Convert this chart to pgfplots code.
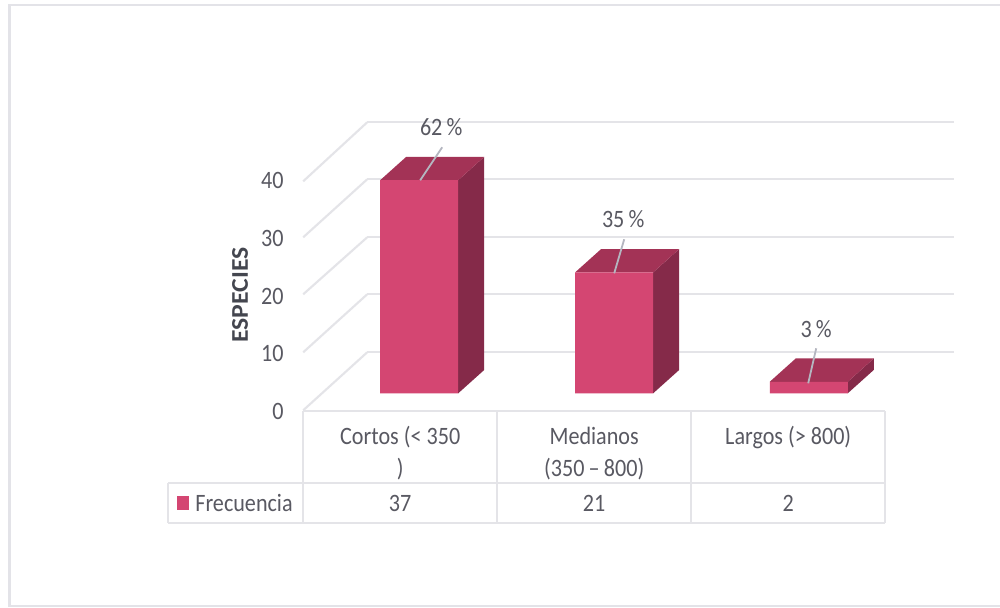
\documentclass[border=0pt]{standalone}
\usepackage{fontspec}
\setmainfont{Carlito}[FakeStretch=0.885]
\newfontfamily\headfont{Carlito}[FakeStretch=1.07]
\usepackage{pgfplots}
\pgfplotsset{compat=1.18}
\definecolor{gridc}{HTML}{E4E4E8}
\definecolor{framec}{HTML}{E3E3E8}
\definecolor{txt}{HTML}{595962}
\definecolor{headc}{HTML}{44464F}
\definecolor{frontc}{HTML}{D44672}
\definecolor{topc}{HTML}{A33356}
\definecolor{sidec}{HTML}{852A49}
\definecolor{leadc}{HTML}{B4B6C0}
\pgfplotsset{
  canvas/.style={at={(0.2pt,-0.3pt)},anchor=south west,scale only axis,width=1000pt,height=607pt,
    xmin=0,xmax=1000,ymin=0,ymax=607,y dir=reverse,hide axis,clip=false},
}
\tikzset{rule/.style={gridc,line width=2.1pt}}
\newcommand{\tabfont}{\fontsize{25}{30}\selectfont}
\begin{document}
\begin{tikzpicture}
\useasboundingbox (0pt,0pt) rectangle (1000pt,607pt);
\clip (0pt,0pt) rectangle (1000pt,607pt);
% page, outer frame, walls and table rules, in page units
\begin{axis}[canvas]
  \fill[white] (axis cs:-2,-2) rectangle (axis cs:1002,609);
  \draw[framec,line width=2.4pt] (axis cs:1002,5) -- (axis cs:9.3,5) -- (axis cs:9.3,605.5) -- (axis cs:1002,605.5);
  % back wall
  \draw[rule] (axis cs:367,122) -- (axis cs:954,122);
  \draw[rule] (axis cs:367,179) -- (axis cs:954,179);
  \draw[rule] (axis cs:367,237) -- (axis cs:954,237);
  \draw[rule] (axis cs:367,294) -- (axis cs:954,294);
  \draw[rule] (axis cs:367,352) -- (axis cs:954,352);
  % side wall
  \draw[rule] (axis cs:303,410) -- (axis cs:367,352);
  \draw[rule] (axis cs:303,352) -- (axis cs:367,294);
  \draw[rule] (axis cs:303,294) -- (axis cs:367,237);
  \draw[rule] (axis cs:303,237) -- (axis cs:367,179);
  \draw[rule] (axis cs:303,181) -- (axis cs:367,122);
  % table
  \draw[rule] (axis cs:303,411) -- (axis cs:885,411);
  \draw[rule] (axis cs:168,483) -- (axis cs:885,483);
  \draw[rule] (axis cs:168,523) -- (axis cs:885,523);
  \draw[rule] (axis cs:168,483) -- (axis cs:168,523);
  \draw[rule] (axis cs:303,411) -- (axis cs:303,523);
  \draw[rule] (axis cs:497,411) -- (axis cs:497,523);
  \draw[rule] (axis cs:691,411) -- (axis cs:691,523);
  \draw[rule] (axis cs:885,411) -- (axis cs:885,523);
\end{axis}
% value axis on the front plane, with the bars set back onto the floor
\begin{axis}[
  at={(303.2pt,196.7pt)},anchor=south west,scale only axis,width=582pt,height=230.4pt,
  xmin=-0.5,xmax=2.5,ymin=0,ymax=40,clip=false,
  axis line style={draw=none},major tick length=0pt,
  ytick={0,10,20,30,40},xtick={0,1,2},
  xticklabels={{Cortos (< 350\\)},{Medianos\\(350\,–\,800)},{Largos (> 800)}},
  /pgf/number format/assume math mode=true,
  tick label style={text=txt,font=\tabfont},
  yticklabel style={anchor=east,xshift=-16pt,yshift=-3pt},
  xticklabel style={align=center,anchor=north,yshift=-9pt,
    font=\fontsize{25}{31.5}\selectfont},
  typeset ticklabels with strut,
  ylabel={\textbf{ESPECIES}},
  ylabel style={text=headc,font=\fontsize{24}{28}\selectfont\headfont,at={(axis description cs:0,0.5)},
    anchor=center,yshift=63pt},
  every axis plot/.append style={xshift=19pt,yshift=17pt},
]
  % side faces
  \addplot[fill=sidec,draw=none] coordinates {(0.201,0) (0.335,4.05) (0.335,41.05) (0.201,37)} --cycle;
  \addplot[fill=sidec,draw=none] coordinates {(1.206,0) (1.340,4.05) (1.340,25.05) (1.206,21)} --cycle;
  \addplot[fill=sidec,draw=none] coordinates {(2.209,0) (2.343,4.05) (2.343,6.05) (2.209,2)} --cycle;
  % top faces
  \addplot[fill=topc,draw=none] coordinates {(-0.201,37) (0.201,37) (0.335,41.05) (-0.067,41.05)} --cycle;
  \addplot[fill=topc,draw=none] coordinates {(0.804,21) (1.206,21) (1.340,25.05) (0.938,25.05)} --cycle;
  \addplot[fill=topc,draw=none] coordinates {(1.807,2) (2.209,2) (2.343,6.05) (1.941,6.05)} --cycle;
  % front faces
  \addplot[ybar,bar width=78pt,fill=frontc,draw=none] coordinates {(0,37) (1.005,21) (2.008,2)};
\end{axis}
% leader lines, percentage labels and the table's data row
\begin{axis}[canvas]
  \draw[leadc,line width=1.8pt] (axis cs:420,180) -- (axis cs:442,147);
  \draw[leadc,line width=1.8pt] (axis cs:614,273) -- (axis cs:624,239);
  \draw[leadc,line width=1.8pt] (axis cs:808,383) -- (axis cs:816,348);
  \node[text=txt,font=\tabfont] at (axis cs:441,127) {62\,\%};
  \node[text=txt,font=\tabfont] at (axis cs:623,219) {35\,\%};
  \node[text=txt,font=\tabfont] at (axis cs:816,329) {3\,\%};
  \fill[frontc] (axis cs:177,496) rectangle (axis cs:188.5,510);
  \node[text=txt,font=\tabfont,anchor=west,inner sep=0pt] at (axis cs:195,503) {Frecuencia};
  \node[text=txt,font=\tabfont] at (axis cs:400,503) {37};
  \node[text=txt,font=\tabfont] at (axis cs:594,503) {21};
  \node[text=txt,font=\tabfont] at (axis cs:788,503) {2};
\end{axis}
\end{tikzpicture}
\end{document}
